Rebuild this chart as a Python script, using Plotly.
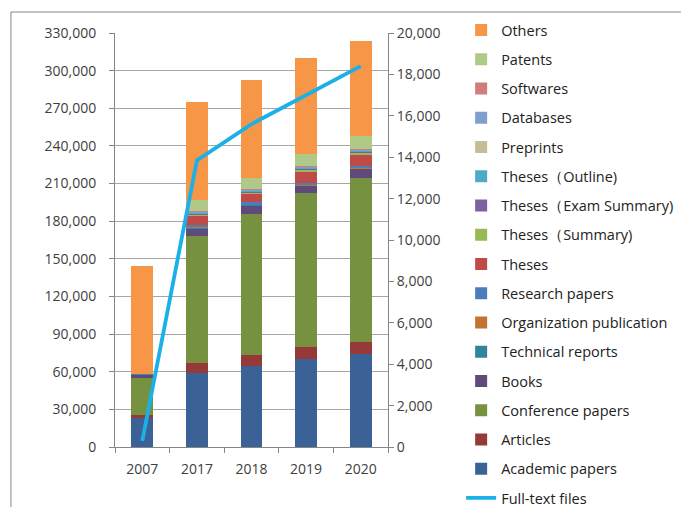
import plotly.graph_objects as go

years = ["2007", "2017", "2018", "2019", "2020"]

academic_papers = [23000, 58700, 64800, 69900, 74400]
articles = [2500, 8000, 8300, 9800, 9500]
conference_papers = [29500, 101500, 112400, 122500, 130300]
books = [2400, 6100, 6900, 6100, 7400]
technical_reports = [200, 600, 500, 400, 500]
organization_publication = [100, 800, 500, 800, 600]
research_papers = [300, 900, 1500, 600, 1500]
theses = [0, 8000, 7000, 9800, 8800]
theses_summary = [0, 800, 800, 1000, 1500]
theses_exam_summary = [0, 900, 900, 1000, 1000]
theses_outline = [0, 500, 500, 600, 600]
preprints = [0, 300, 300, 300, 300]
databases = [0, 700, 800, 900, 800]
softwares = [0, 300, 300, 300, 400]
patents = [0, 8800, 9000, 9800, 10400]
others = [86500, 77800, 78000, 76500, 75600]

full_text_files = [300, 13850, 15600, 17000, 18400]

series = [
    ("Academic papers", academic_papers, "#3A6297"),
    ("Articles", articles, "#953A38"),
    ("Conference papers", conference_papers, "#76913F"),
    ("Books", books, "#604A7B"),
    ("Technical reports", technical_reports, "#31849B"),
    ("Organization publication", organization_publication, "#C5742F"),
    ("Research papers", research_papers, "#4A7EBB"),
    ("Theses", theses, "#BE4B48"),
    ("Theses（Summary)", theses_summary, "#98B954"),
    ("Theses（Exam Summary)", theses_exam_summary, "#7D60A0"),
    ("Theses（Outline)", theses_outline, "#4BACC6"),
    ("Preprints", preprints, "#C4BD97"),
    ("Databases", databases, "#7F9FCF"),
    ("Softwares", softwares, "#D07D7B"),
    ("Patents", patents, "#AFC988"),
    ("Others", others, "#F79646"),
]

fig = go.Figure()
n = len(series)
for i, (name, vals, color) in enumerate(series):
    fig.add_trace(go.Bar(
        x=years, y=vals, name=name,
        marker=dict(color=color, line=dict(width=0)),
        legendrank=n - i, legendgroup=name,
    ))

fig.add_trace(go.Scatter(
    x=years, y=full_text_files, name="Full-text files", yaxis="y2",
    mode="lines", line=dict(color="#1CB0E8", width=3.8),
    legendrank=n + 1, legendgroup="Full-text files",
))

font = dict(family="Open Sans, Noto Sans, sans-serif", size=14, color="#404040")

# page body has an 8px margin; figure is sized/offset to compensate
fig.update_layout(
    width=681, height=499,
    margin=dict(l=107, r=301, t=25, b=60, autoexpand=False),
    paper_bgcolor="white", plot_bgcolor="white",
    barmode="stack", bargap=0.6,
    font=font,
    showlegend=True,
    legend=dict(
        x=(443 - 107) / 265, xanchor="left", y=(439 - 6) / 414, yanchor="top",
        traceorder="grouped", tracegroupgap=7.4, maxheight=600,
        font=dict(family="Open Sans, Noto Sans, sans-serif", size=14.5, color="#222222"),
        itemwidth=30, bgcolor="rgba(0,0,0,0)",
    ),
    xaxis=dict(
        type="category", showgrid=False, showline=True, linecolor="#868686", linewidth=1,
        ticks="outside", tickson="boundaries", ticklen=5, tickcolor="#868686",
        tickfont=font, ticklabelstandoff=9,
    ),
    yaxis=dict(
        range=[0, 330000], dtick=30000, tickformat=",", showgrid=True,
        gridcolor="#A6A6A6", gridwidth=1, showline=True, linecolor="#868686",
        ticks="outside", ticklen=5, tickcolor="#868686", tickfont=font, zeroline=False,
        ticklabelstandoff=10,
    ),
    yaxis2=dict(
        range=[0, 20000], dtick=2000, tickformat=",", overlaying="y", side="right",
        showgrid=False, showline=True, linecolor="#868686", ticks="outside", ticklen=5,
        tickcolor="#868686", tickfont=font, zeroline=False, ticklabelstandoff=0,
    ),
    shapes=[dict(
        type="rect", xref="paper", yref="paper",
        x0=(6 - 107) / 265, x1=(720 - 107) / 265,
        y0=(439 - 540) / 414, y1=(439 - 4) / 414,
        line=dict(color="#868686", width=1), fillcolor="rgba(0,0,0,0)", layer="below",
    )],
)

fig.write_html("out.html")
